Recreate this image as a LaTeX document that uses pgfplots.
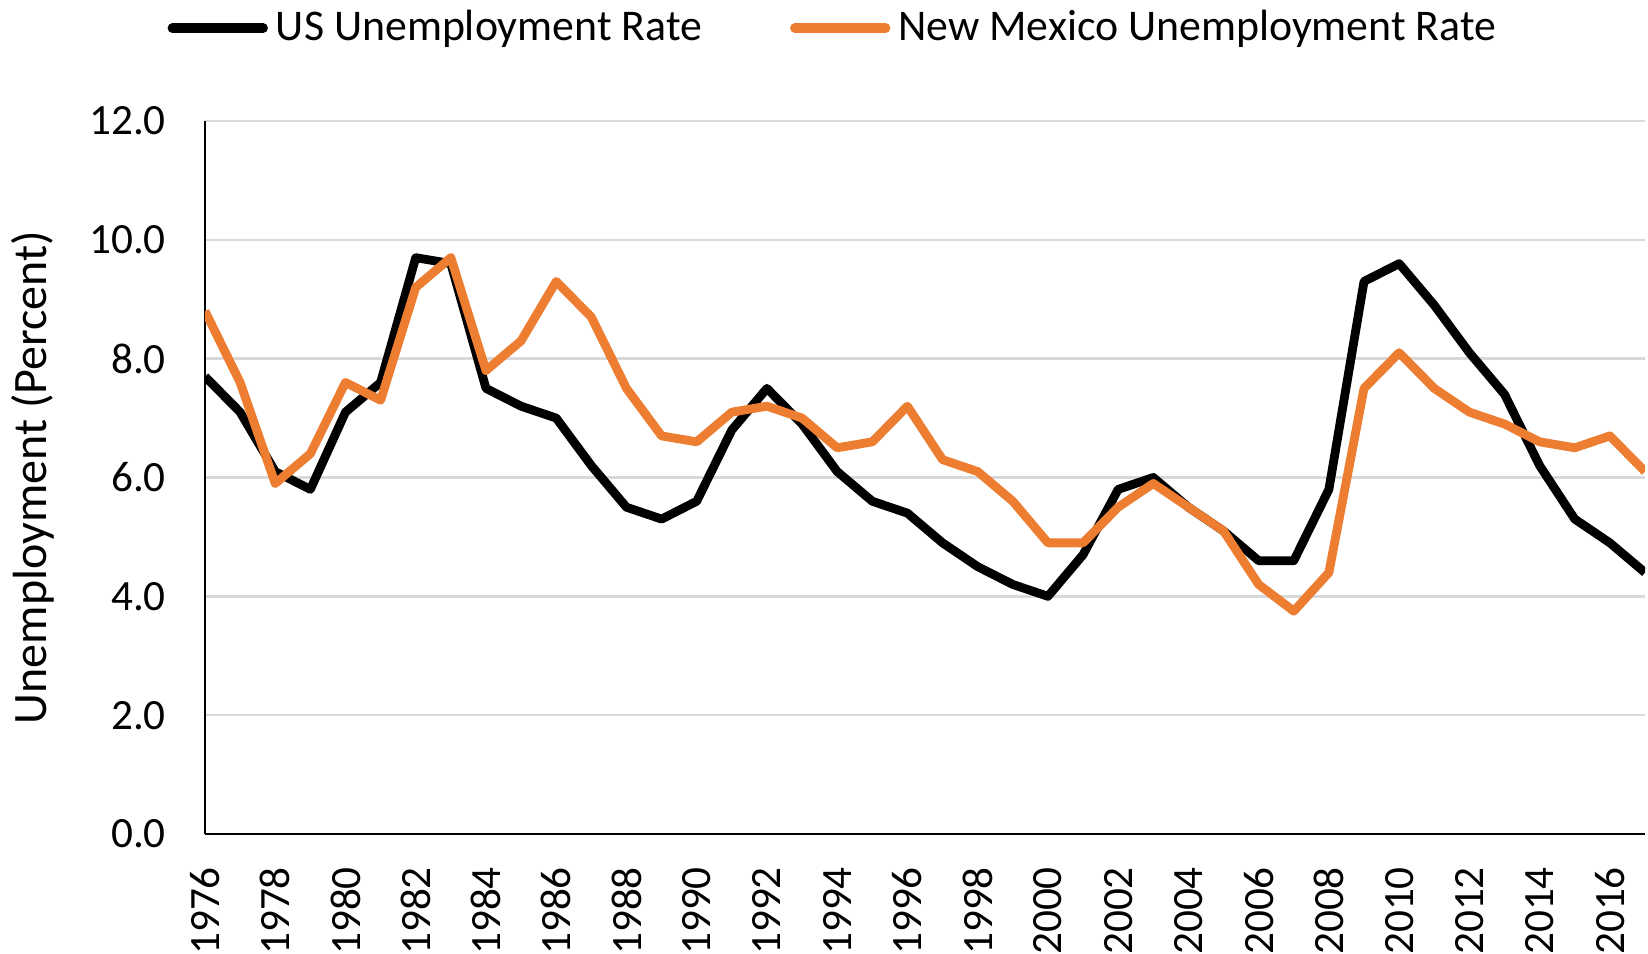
\documentclass[border=0pt]{standalone}
\usepackage{fontspec}
\setmainfont{Carlito}
\usepackage{pgfplots}
\pgfplotsset{compat=1.18}
\usepackage{pgfplotstable}
\definecolor{nmorange}{HTML}{ED7D31}
\definecolor{gridgray}{HTML}{D9D9D9}
\pgfplotstableread{
year us nm
1976 7.7 8.8
1977 7.1 7.6
1978 6.1 5.9
1979 5.8 6.4
1980 7.1 7.6
1981 7.6 7.3
1982 9.7 9.2
1983 9.6 9.7
1984 7.5 7.8
1985 7.2 8.3
1986 7.0 9.3
1987 6.2 8.7
1988 5.5 7.5
1989 5.3 6.7
1990 5.6 6.6
1991 6.8 7.1
1992 7.5 7.2
1993 6.9 7.0
1994 6.1 6.5
1995 5.6 6.6
1996 5.4 7.2
1997 4.9 6.3
1998 4.5 6.1
1999 4.2 5.6
2000 4.0 4.9
2001 4.7 4.9
2002 5.8 5.5
2003 6.0 5.9
2004 5.5 5.5
2005 5.1 5.1
2006 4.6 4.2
2007 4.6 3.75
2008 5.8 4.4
2009 9.3 7.5
2010 9.6 8.1
2011 8.9 7.5
2012 8.1 7.1
2013 7.4 6.9
2014 6.2 6.6
2015 5.3 6.5
2016 4.9 6.7
2017 4.4 6.1
}\datatable
\begin{document}
\fontsize{10.8pt}{13pt}\selectfont
\begin{tikzpicture}
\useasboundingbox (-51.25pt,-29.75pt) rectangle (360.75pt,208.5pt);
\begin{axis}[
  at={(0pt,0pt)}, anchor=south west,
  scale only axis, width=360pt, height=178.25pt,
  xmin=1976, xmax=2017, ymin=0, ymax=12,
  xtick={1976,1978,...,2016}, ytick={0,2,...,12},
  /pgf/number format/assume math mode=true,
  xticklabel style={/pgf/number format/1000 sep={}, rotate=90, anchor=east},
  yticklabel style={/pgf/number format/.cd, fixed, fixed zerofill, precision=1},
  xticklabel shift=4.5pt,
  yticklabel shift=6pt,
  major tick length=0pt,
  axis x line*=bottom, axis y line*=left,
  axis line style={-, black, line width=0.6pt},
  ymajorgrids, grid style={gridgray, line width=0.6pt},
  ylabel={Unemployment (Percent)},
  every axis y label/.style={at={(axis description cs:-0.1194,0.5)}, rotate=90, anchor=center, font=\fontsize{12pt}{14pt}\selectfont},
  legend columns=2,
  legend style={at={(axis description cs:-0.026,1)}, anchor=west, yshift=23.2pt, draw=none, fill=none, inner sep=0pt, outer sep=0pt,
    font=\fontsize{10.95pt}{13pt}\selectfont,
    /tikz/every even column/.append style={column sep=20pt}},
  legend image code/.code={\draw[#1, line cap=round, line width=2.5pt] (0pt,0pt) -- (22.6pt,0pt);},
]
\addplot[black, line width=2.2pt, line join=round] table[x=year, y=us] {\datatable};
\addlegendentry{US Unemployment Rate}
\addplot[nmorange, line width=2.2pt, line join=round] table[x=year, y=nm] {\datatable};
\addlegendentry{New Mexico Unemployment Rate}
\end{axis}
\end{tikzpicture}
\end{document}
